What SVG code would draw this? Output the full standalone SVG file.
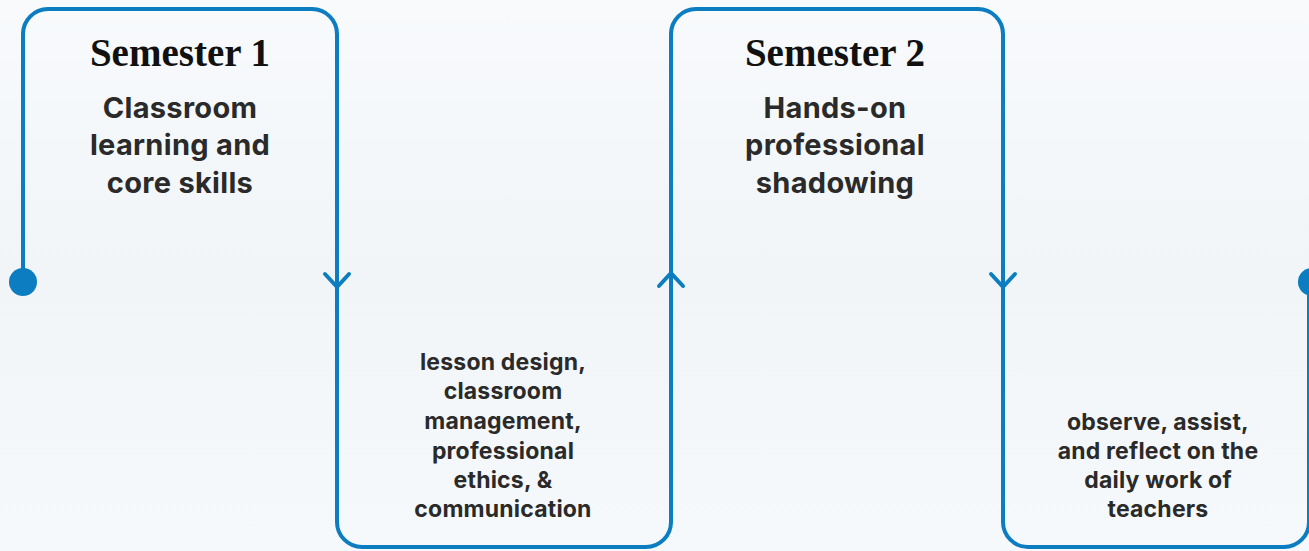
<svg xmlns="http://www.w3.org/2000/svg" width="1309" height="551" viewBox="0 0 1309 551">
<defs>
<linearGradient id="bg" x1="0" y1="0" x2="0" y2="1">
<stop offset="0" stop-color="#f8fafc"/>
<stop offset="0.5" stop-color="#f1f5f8"/>
<stop offset="1" stop-color="#f6f9fb"/>
</linearGradient>
<style>
.ln{fill:none;stroke:#0b7dc0;stroke-width:4;stroke-linecap:round;stroke-linejoin:round}
.dot{fill:#0b7dc0}
.ttl{font-family:"Liberation Serif",serif;font-weight:700;font-size:39px;fill:#111;text-anchor:middle}
.sub{font-family:Inter,"Liberation Sans",sans-serif;font-weight:700;font-size:29px;letter-spacing:0.3px;fill:#2a2a2a;text-anchor:middle}
.det{font-family:Inter,"Liberation Sans",sans-serif;font-weight:700;font-size:23px;letter-spacing:0.2px;fill:#2a2a2a;text-anchor:middle}
</style>
</defs>
<rect width="1309" height="551" fill="url(#bg)"/>
<g id="connectors">
<path class="ln" d="M23,282 V34 A25,25 0 0 1 48,9 H312 A25,25 0 0 1 337,34 V522 A25,25 0 0 0 362,547 H646 A25,25 0 0 0 671,522 V34 A25,25 0 0 1 696,9 H978 A25,25 0 0 1 1003,34 V522 A25,25 0 0 0 1028,547 H1284 A25,25 0 0 0 1309,522 V282"/>
<circle class="dot" cx="23" cy="282" r="14"/>
<circle class="dot" cx="1312" cy="282" r="14"/>
<path class="ln" d="M325,274 L337,287 L349,274"/>
<path class="ln" d="M659,286 L671,273 L683,286"/>
<path class="ln" d="M991,274 L1003,287 L1015,274"/>
</g>
<g id="semester1">
<text class="ttl" x="180" y="66">Semester 1</text>
<text class="sub" x="180" y="118">Classroom</text>
<text class="sub" x="180" y="155">learning and</text>
<text class="sub" x="180" y="193">core skills</text>
</g>
<g id="semester1-details">
<text class="det" x="503" y="370">lesson design,</text>
<text class="det" x="503" y="399">classroom</text>
<text class="det" x="503" y="429">management,</text>
<text class="det" x="503" y="459">professional</text>
<text class="det" x="503" y="488">ethics, &amp;</text>
<text class="det" x="503" y="517">communication</text>
</g>
<g id="semester2">
<text class="ttl" x="835" y="66">Semester 2</text>
<text class="sub" x="835" y="118">Hands-on</text>
<text class="sub" x="835" y="155">professional</text>
<text class="sub" x="835" y="193">shadowing</text>
</g>
<g id="semester2-details">
<text class="det" x="1158" y="430">observe, assist,</text>
<text class="det" x="1158" y="459">and reflect on the</text>
<text class="det" x="1158" y="488">daily work of</text>
<text class="det" x="1158" y="517">teachers</text>
</g>
</svg>
